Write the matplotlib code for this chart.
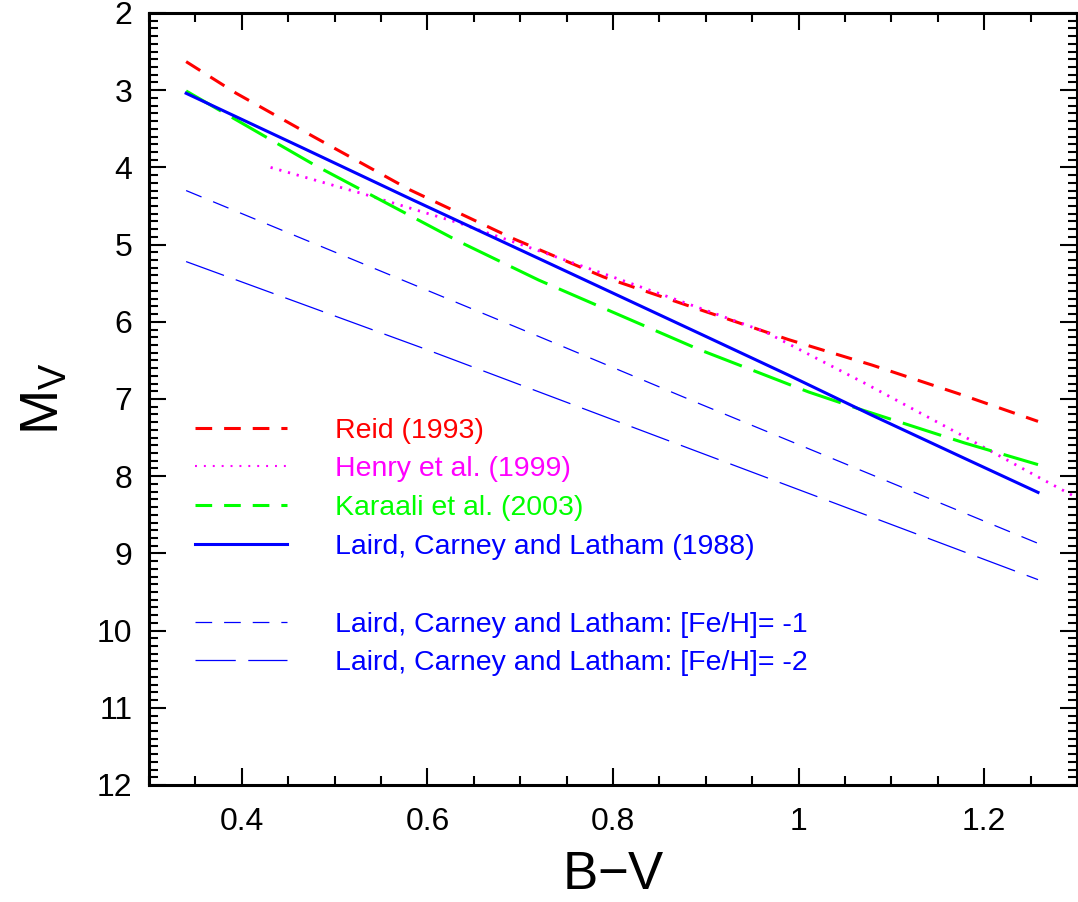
import numpy as np
import matplotlib
matplotlib.use('Agg')
import matplotlib.pyplot as plt
from matplotlib.lines import Line2D
from matplotlib.ticker import MultipleLocator

plt.rcParams['font.family'] = ['Liberation Sans', 'DejaVu Sans']
plt.rcParams['mathtext.fontset'] = 'custom'
plt.rcParams['mathtext.rm'] = 'Liberation Sans'
plt.rcParams['lines.scale_dashes'] = False

# colour (B-V) and absolute magnitude
reid_bv = [0.34, 0.394, 0.477, 0.581, 0.692, 0.79, 0.893, 0.989, 1.079, 1.172, 1.258]
reid_mv = [2.63, 3.04, 3.60, 4.29, 4.92, 5.42, 5.84, 6.23, 6.56, 6.93, 7.29]

henry_bv = [0.431, 0.530, 0.634, 0.713, 0.80, 0.893, 0.964, 1.072, 1.179, 1.258, 1.30]
henry_mv = [4.00, 4.34, 4.72, 5.05, 5.42, 5.82, 6.13, 6.80, 7.49, 8.01, 8.28]

karaali_bv = [0.34, 0.480, 0.634, 0.720, 0.893, 1.011, 1.068, 1.179, 1.258]
karaali_mv = [3.01, 3.98, 4.96, 5.46, 6.36, 6.91, 7.14, 7.57, 7.85]

lcl_bv = [0.34, 0.466, 0.584, 0.720, 0.893, 0.989, 1.079, 1.179, 1.258]
lcl_mv = [3.04, 3.75, 4.42, 5.18, 6.15, 6.69, 7.21, 7.77, 8.21]

lcl1_bv = [0.34, 0.720, 0.893, 1.258]
lcl1_mv = [4.30, 6.19, 7.06, 8.87]

lcl2_bv = [0.34, 0.597, 0.893, 1.258]
lcl2_mv = [5.22, 6.35, 7.69, 9.34]

labels = ['Reid (1993)', 'Henry et al. (1999)', 'Karaali et al. (2003)',
          'Laird, Carney and Latham (1988)',
          'Laird, Carney and Latham: [Fe/H]= -1',
          'Laird, Carney and Latham: [Fe/H]= -2']

fig = plt.figure(figsize=(10.78, 9.02), dpi=100)
ax = fig.add_axes([149/1078, 1-785/902, 928/1078, 772/902])

ax.plot(reid_bv, reid_mv, color='red', lw=2.2, dashes=(12, 8.6))
ax.plot(henry_bv, henry_mv, color='magenta', lw=2.0, dashes=(1.6, 4.9))
ax.plot(karaali_bv, karaali_mv, color='lime', lw=2.2, dashes=(29, 9))
ax.plot(lcl_bv, lcl_mv, color='blue', lw=2.2)
ax.plot(lcl1_bv, lcl1_mv, color='blue', lw=0.9, dashes=(12, 9))
ax.plot(lcl2_bv, lcl2_mv, color='blue', lw=0.9, dashes=(29, 9))

handles = [
    Line2D([], [], color='red', lw=2.2, dashes=(12, 8.6)),
    Line2D([], [], color='magenta', lw=1.5, dashes=(1.4, 5)),
    Line2D([], [], color='lime', lw=2.2, dashes=(12, 8.6)),
    Line2D([], [], color='blue', lw=2.2),
    Line2D([], [], color='none'),
    Line2D([], [], color='blue', lw=0.9, dashes=(12, 8.6)),
    Line2D([], [], color='blue', lw=0.9, dashes=(29, 9)),
]
leg_labels = labels[:4] + [' '] + labels[4:]
leg = ax.legend(handles, leg_labels, loc='upper left', bbox_to_anchor=(0.05, 0.476),
                frameon=False, fontsize=20.5, handlelength=3.22, handletextpad=1.7,
                labelspacing=0.45, borderpad=0, borderaxespad=0)
for txt, c in zip(leg.get_texts(), ['red', 'magenta', 'lime', 'blue', 'blue', 'blue', 'blue']):
    txt.set_color(c)

ax.set_xlim(0.3, 1.3)
ax.set_ylim(12, 2)
ax.xaxis.set_major_locator(MultipleLocator(0.2))
ax.xaxis.set_minor_locator(MultipleLocator(0.05))
ax.yaxis.set_major_locator(MultipleLocator(1))
ax.yaxis.set_minor_locator(MultipleLocator(0.1))
ax.set_xticks([0.4, 0.6, 0.8, 1.0, 1.2])
ax.set_xticklabels(['0.4', '0.6', '0.8', '1', '1.2'])

ax.tick_params(which='both', direction='in', top=True, right=True, labelsize=23)
ax.tick_params(which='major', length=12, width=1.5)
ax.tick_params(which='minor', length=6.5, width=1.5)
ax.tick_params(axis='x', pad=16)
ax.tick_params(axis='y', pad=12)
for s in ax.spines.values():
    s.set_linewidth(2.2)

ax.set_xlabel('B$-$V', fontsize=38, labelpad=9)
ax.set_ylabel(r'M$_\mathregular{V}$', fontsize=39, labelpad=20)

fig.savefig('out.png', dpi=100)
